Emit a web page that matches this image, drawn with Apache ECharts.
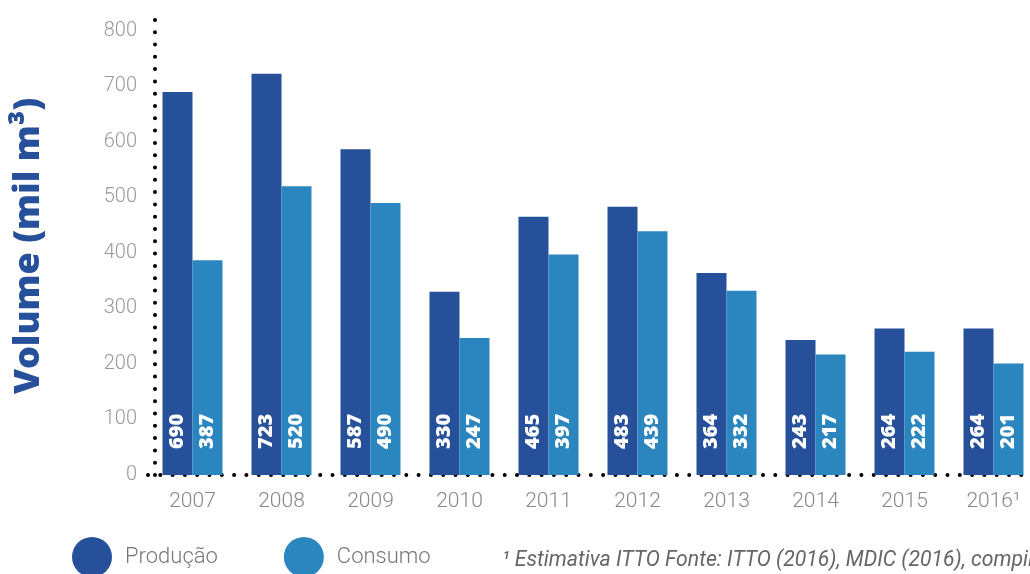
<!DOCTYPE html>
<html>
<head>
<meta charset="utf-8">
<script src="https://cdn.jsdelivr.net/npm/echarts@6/dist/echarts.min.js"></script>
<style>
  html, body { margin: 0; padding: 0; background: #fff; }
  #chart { width: 1030px; height: 574px; }
</style>
</head>
<body>
<div id="chart"></div>
<script>
// dados
var anos = ['2007', '2008', '2009', '2010', '2011', '2012', '2013', '2014', '2015', '2016¹']
var producao = [690, 723, 587, 330, 465, 483, 364, 243, 264, 264]
var consumo = [387, 520, 490, 247, 397, 439, 332, 217, 222, 201]
var nota = '¹ Estimativa ITTO Fonte: ITTO (2016), MDIC (2016), compilado por ABIMCI'

var corProd = '#27509b'
var corCons = '#2b86c0'

var chart = echarts.init(document.getElementById('chart'))

// rotulo vertical dentro da barra
var rotulo = {
  show: true,
  position: 'insideBottom',
  distance: 26,
  rotate: 90,
  align: 'left',
  verticalAlign: 'middle',
  color: '#fff',
  fontSize: 20,
  fontWeight: 800,
  fontFamily: 'Open Sans'
}

// linha pontilhada
var pontilhado = {
  color: '#000',
  width: 4,
  type: [0, 12.3],
  cap: 'round'
}

chart.setOption({
  animation: false,
  title: {
    text: nota,
    left: 497,
    top: 545,
    textStyle: {
      color: '#666',
      fontSize: 21.2,
      fontStyle: 'italic',
      fontWeight: 'normal',
      fontFamily: 'Roboto'
    }
  },
  legend: {
    left: 72,
    top: 537,
    padding: 0,
    icon: 'circle',
    itemWidth: 40,
    itemHeight: 40,
    itemGap: 66,
    textStyle: {
      color: '#777',
      fontSize: 22,
      fontWeight: 300,
      fontFamily: 'Roboto',
      padding: [4, 0, 0, 8]
    },
    data: ['Produção', 'Consumo']
  },
  grid: {
    left: 148,
    width: 890,
    top: 17,
    bottom: 99,
    outerBoundsMode: 'none'
  },
  xAxis: {
    type: 'category',
    data: anos,
    axisLine: { lineStyle: pontilhado },
    axisTick: { show: false },
    axisLabel: {
      color: '#888',
      fontSize: 21,
      fontWeight: 300,
      fontFamily: 'Roboto',
      margin: 16
    }
  },
  yAxis: {
    type: 'value',
    min: 0,
    max: 825,
    interval: 100,
    offset: -7,
    name: 'Volume (mil m³)',
    nameLocation: 'middle',
    nameGap: 108,
    nameTextStyle: {
      color: corProd,
      fontSize: 36,
      fontWeight: 800,
      fontFamily: 'Open Sans'
    },
    axisLine: { show: true, lineStyle: pontilhado },
    axisTick: { show: false },
    splitLine: { show: false },
    axisLabel: {
      showMaxLabel: false,
      color: '#999',
      fontSize: 20,
      fontWeight: 300,
      fontFamily: 'Roboto',
      margin: 18
    }
  },
  series: [
    {
      name: 'Produção',
      type: 'bar',
      barWidth: 30,
      barGap: '0%',
      itemStyle: { color: corProd },
      label: rotulo,
      data: producao
    },
    {
      name: 'Consumo',
      type: 'bar',
      barWidth: 30,
      itemStyle: { color: corCons },
      label: rotulo,
      data: consumo
    }
  ]
})
</script>
</body>
</html>
